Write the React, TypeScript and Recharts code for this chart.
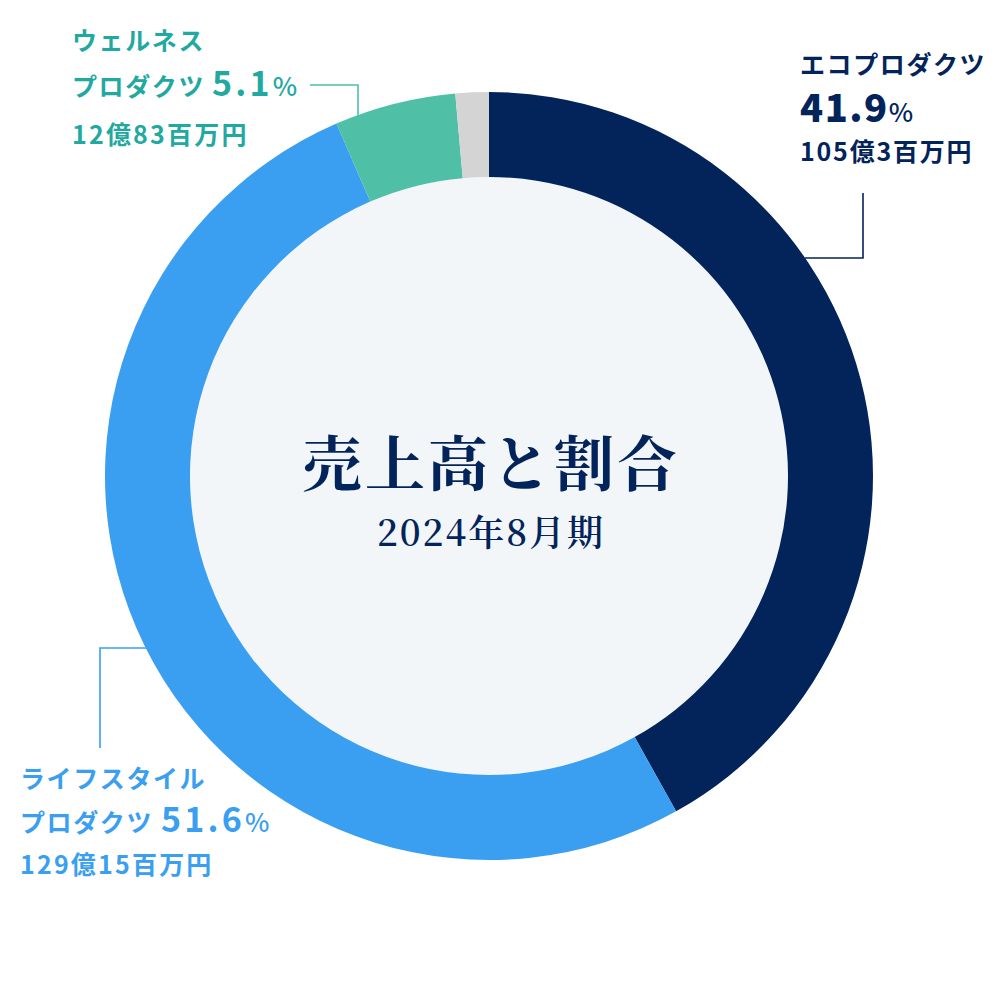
import React from "react";
import { PieChart, Pie, Cell } from "recharts";

const segmentNames = ["エコプロダクツ", "ライフスタイルプロダクツ", "ウェルネスプロダクツ", "その他"];
const segmentShares = [41.9, 51.6, 5.1, 1.4];
const segmentAmounts = ["105億3百万円", "129億15百万円", "12億83百万円", ""];
const segmentColors = ["#02245A", "#3A9EF1", "#4FC0A6", "#D4D4D4"];
const segmentTextColors = ["#02245A", "#3A9EF1", "#1FA9A1", "#999999"];
const centerTitle = "売上高と割合";
const centerSub = "2024年8月期";

const data = segmentNames.map((name, i) => ({ name, value: segmentShares[i], amount: segmentAmounts[i] }));
const innerData = [{ name: "inner", value: 1 }];

const SANS = '"Noto Sans CJK JP", "Noto Sans", sans-serif';
const SERIF = '"Noto Serif CJK JP", "Liberation Serif", "DejaVu Serif", serif';

const CX = 489;
const CY = 476;

function renderLabel(props: any) {
  const { cx, cy, index } = props;
  const d = data[index];
  const color = segmentTextColors[index];
  const line = segmentColors[index];
  const base = { fontFamily: SANS, fontWeight: 700, fill: color } as any;
  const numBig = { fontSize: 38, fontWeight: 800, letterSpacing: 1.5 } as any;
  const num = { fontSize: 34, fontWeight: 700, letterSpacing: 3.2 } as any;
  const pct = { fontSize: 26, fontWeight: 500 } as any;
  if (index === 0) {
    const x = cx + 311;
    return (
      <g key="l0">
        <polyline points={`${cx + 374},${cy - 283} ${cx + 374},${cy - 218} ${cx + 316},${cy - 218}`} fill="none" stroke={line} strokeWidth={1.6} />
        <text x={x} y={cy - 402} fontSize={25} letterSpacing={1.6} {...base}>{d.name}</text>
        <text x={x} y={cy - 354} {...base}>
          <tspan {...numBig}>{d.value.toFixed(1)}</tspan>
          <tspan {...pct}>%</tspan>
        </text>
        <text x={x} y={cy - 315} fontSize={25} letterSpacing={1.8} {...base}>{d.amount}</text>
      </g>
    );
  }
  if (index === 1) {
    const x = cx - 469;
    return (
      <g key="l1">
        <polyline points={`${cx - 389},${cy + 272} ${cx - 389},${cy + 172} ${cx - 342},${cy + 172}`} fill="none" stroke={line} strokeWidth={1.6} />
        <text x={x} y={cy + 312} fontSize={25} letterSpacing={1.6} {...base}>ライフスタイル</text>
        <text x={x} y={cy + 356} {...base}>
          <tspan fontSize={25} letterSpacing={1.6}>プロダクツ</tspan>
          <tspan x={cx - 328} {...num}>{d.value.toFixed(1)}</tspan>
          <tspan {...pct}>%</tspan>
        </text>
        <text x={x} y={cy + 398} fontSize={25} letterSpacing={2.2} {...base}>{d.amount}</text>
      </g>
    );
  }
  if (index === 2) {
    const x = cx - 417;
    return (
      <g key="l2">
        <polyline points={`${cx - 179},${cy - 391} ${cx - 131},${cy - 391} ${cx - 131},${cy - 359}`} fill="none" stroke={line} strokeWidth={1.6} />
        <text x={x} y={cy - 426} fontSize={25} letterSpacing={1.6} {...base}>ウェルネス</text>
        <text x={x} y={cy - 380} {...base}>
          <tspan fontSize={25} letterSpacing={1.6}>プロダクツ</tspan>
          <tspan x={cx - 277} {...num}>{d.value.toFixed(1)}</tspan>
          <tspan {...pct}>%</tspan>
        </text>
        <text x={x} y={cy - 332} fontSize={25} letterSpacing={2.2} {...base}>{d.amount}</text>
      </g>
    );
  }
  return <g key="l3" />;
}

function renderCenter(props: any) {
  const { cx, cy } = props;
  return (
    <g key="center">
      <text x={cx + 2} y={cy + 10} textAnchor="middle" fontFamily={SERIF} fontWeight={700} fontSize={60} fill="#02245A" letterSpacing={3}>
        {centerTitle}
      </text>
      <text x={cx + 2} y={cy + 70} textAnchor="middle" fontFamily={SERIF} fontWeight={600} fontSize={36} fill="#02245A" letterSpacing={2}>
        {centerSub}
      </text>
    </g>
  );
}

export default function App() {
  return (
    <div style={{ position: "absolute", left: 0, top: 0, width: 1001, height: 1005, background: "#ffffff" }}>
      <PieChart width={1001} height={1005} margin={{ top: 0, right: 0, bottom: 0, left: 0 }}>
        <Pie
          data={innerData}
          dataKey="value"
          cx={CX}
          cy={CY}
          innerRadius={0}
          outerRadius={299}
          fill="#F2F6F8"
          stroke="none"
          isAnimationActive={false}
          label={renderCenter}
          labelLine={false}
        />
        <Pie
          data={data}
          dataKey="value"
          cx={CX}
          cy={CY}
          innerRadius={299}
          outerRadius={384}
          startAngle={90}
          endAngle={-270}
          stroke="none"
          isAnimationActive={false}
          label={renderLabel}
          labelLine={false}
        >
          {data.map((d, i) => (
            <Cell key={d.name} fill={segmentColors[i]} />
          ))}
        </Pie>
      </PieChart>
    </div>
  );
}
